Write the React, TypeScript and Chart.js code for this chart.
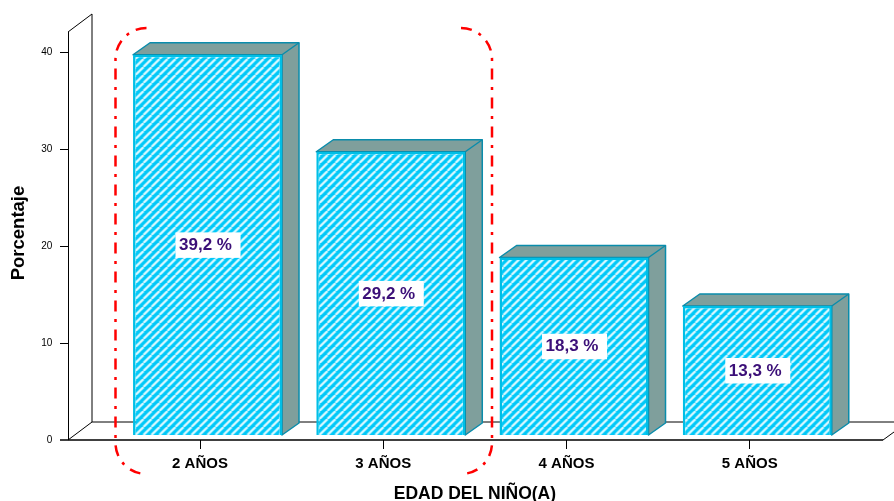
import React, { useEffect, useRef } from "react";
import { Chart, registerables } from "chart.js";

Chart.register(...registerables);

const categories = ["2 AÑOS", "3 AÑOS", "4 AÑOS", "5 AÑOS"];
const percentages = [39.2, 29.2, 18.3, 13.3];
const xTitle = "EDAD DEL NIÑO(A)";
const yTitle = "Porcentaje";

const FONT = '"Liberation Sans", Arial, sans-serif';
const DEPTH_X = 17;
const DEPTH_Y = 12;
const SHIFT_X = 7.5;
const SHIFT_Y = -5;

function makeStripes(): CanvasPattern | string {
  const size = 8;
  const tile = document.createElement("canvas");
  tile.width = size;
  tile.height = size;
  const c = tile.getContext("2d")!;
  c.fillStyle = "#00c8f8";
  c.fillRect(0, 0, size, size);
  c.strokeStyle = "#d8f8ff";
  c.lineWidth = 2.3;
  for (let i = -size; i <= size * 2; i += size) {
    c.beginPath();
    c.moveTo(i, size);
    c.lineTo(i + size, 0);
    c.stroke();
  }
  return c.createPattern(tile, "repeat") || "#00c8f8";
}

const frame3d = {
  id: "frame3d",
  beforeDatasetsDraw(chart: any) {
    const { ctx, scales } = chart;
    const y = scales.y;
    const zero = y.getPixelForValue(0);
    const top40 = y.getPixelForValue(40);
    const frontX = 68;
    const backX = frontX + 24;
    const wallTop = top40 - 20;
    const floorBack = zero - 18;
    const frontEnd = 883;
    ctx.save();
    ctx.strokeStyle = "#000";
    ctx.lineWidth = 1;
    const seg = (a: number, b: number, c: number, d: number) => {
      ctx.beginPath();
      ctx.moveTo(a, b);
      ctx.lineTo(c, d);
      ctx.stroke();
    };
    seg(frontX, wallTop, backX, wallTop - 18);
    seg(backX, wallTop - 18, backX, floorBack);
    seg(frontX, zero, backX, floorBack);
    seg(backX, floorBack, 894, floorBack);
    seg(frontEnd, zero, 894, zero - 8);
    seg(frontX + 0.5, wallTop, frontX + 0.5, zero);
    y.ticks.forEach((t: any) => {
      const p = Math.round(y.getPixelForValue(t.value)) + 0.5;
      if (t.value !== 0) seg(60, p, frontX, p);
    });
    ctx.lineWidth = 1.5;
    seg(60, zero, frontEnd, zero);
    ctx.restore();

    // side faces of the bars, then shift the front faces onto the bar plane
    const meta = chart.getDatasetMeta(0);
    ctx.save();
    ctx.translate(SHIFT_X, SHIFT_Y);
    ctx.fillStyle = "#7f9f9c";
    ctx.strokeStyle = "#0a8cab";
    ctx.lineWidth = 1.5;
    ctx.lineJoin = "round";
    meta.data.forEach((bar: any) => {
      const { x, y: top, base, width } = bar.getProps(["x", "y", "base", "width"], true);
      const l = x - width / 2;
      const r = x + width / 2;
      ctx.beginPath();
      ctx.moveTo(l, top);
      ctx.lineTo(l + DEPTH_X, top - DEPTH_Y);
      ctx.lineTo(r + DEPTH_X, top - DEPTH_Y);
      ctx.lineTo(r + DEPTH_X, base - DEPTH_Y);
      ctx.lineTo(r, base);
      ctx.lineTo(r, top);
      ctx.closePath();
      ctx.fill();
      ctx.stroke();
      ctx.beginPath();
      ctx.moveTo(r, top);
      ctx.lineTo(r + DEPTH_X, top - DEPTH_Y);
      ctx.stroke();
    });
    ctx.restore();
    ctx.save();
    ctx.translate(SHIFT_X, SHIFT_Y);
  },
  afterDatasetsDraw(chart: any) {
    const { ctx } = chart;
    ctx.restore();
    const meta = chart.getDatasetMeta(0);
    ctx.save();
    ctx.font = `bold 17px ${FONT}`;
    ctx.textAlign = "center";
    ctx.textBaseline = "middle";
    meta.data.forEach((bar: any, i: number) => {
      const { x, y: top, base } = bar.getProps(["x", "y", "base"], true);
      const cx = x + SHIFT_X;
      const cy = (top + base) / 2 + SHIFT_Y;
      ctx.fillStyle = "#fff";
      ctx.fillRect(cx - 32, cy - 12.5, 65, 25.5);
      ctx.fillStyle = "#3b0f78";
      ctx.fillText(`${percentages[i].toFixed(1).replace(".", ",")} %`, cx - 2, cy + 0.5);
    });
    ctx.restore();
  },
  afterDraw(chart: any) {
    const { ctx } = chart;
    const l = 115.5, r = 492, t = 28, b = 474, rad = 31;
    ctx.save();
    ctx.strokeStyle = "#ff0000";
    ctx.lineWidth = 2.5;
    ctx.setLineDash([11, 7.5, 3, 7.5]);
    ctx.beginPath();
    ctx.moveTo(l + rad, t);
    ctx.arcTo(l, t, l, t + rad, rad);
    ctx.lineTo(l, b - rad);
    ctx.arcTo(l, b, l + rad, b, rad);
    ctx.stroke();
    ctx.beginPath();
    ctx.moveTo(r - rad, t);
    ctx.arcTo(r, t, r, t + rad, rad);
    ctx.lineTo(r, b - rad);
    ctx.arcTo(r, b, r - rad, b, rad);
    ctx.stroke();
    ctx.restore();
  },
};

export default function App() {
  const ref = useRef<HTMLCanvasElement>(null);
  useEffect(() => {
    const chart = new Chart(ref.current!, {
      type: "bar",
      data: {
        labels: categories,
        datasets: [
          {
            data: percentages,
            backgroundColor: makeStripes() as any,
            borderColor: "#00bfe6",
            borderWidth: 2.5,
            categoryPercentage: 1,
            barPercentage: 0.813,
            clip: false as any,
          },
        ],
      },
      options: {
        responsive: false,
        animation: false,
        layout: { padding: { top: 26, right: 52.6, left: 0, bottom: 0 } },
        plugins: { legend: { display: false }, tooltip: { enabled: false } },
        scales: {
          x: {
            afterFit(s: any) {
              s.height = 61;
            },
            grid: {
              offset: false,
              drawOnChartArea: false,
              drawTicks: true,
              tickLength: 9,
              color: "#000",
            },
            border: { display: false },
            ticks: {
              color: "#000",
              padding: 6,
              maxRotation: 0,
              font: { family: FONT, size: 15, weight: "bold" },
            },
            title: {
              display: true,
              text: xTitle,
              color: "#000",
              padding: { top: 8, bottom: -4 },
              font: { family: FONT, size: 17.5, weight: "bold" },
            },
          },
          y: {
            min: 0,
            max: 42.68,
            afterBuildTicks(s: any) {
              s.ticks = s.ticks.filter((t: any) => t.value % 10 === 0);
            },
            afterFit(s: any) {
              s.width = 108.4;
              s.paddingTop = 0;
              s.paddingBottom = 0;
            },
            grid: { display: false, drawTicks: false },
            border: { display: false },
            ticks: {
              stepSize: 10,
              color: "#000",
              padding: 56,
              font: { family: FONT, size: 10 },
            },
            title: {
              display: true,
              text: yTitle,
              color: "#000",
              padding: { top: 8, bottom: 0 },
              font: { family: FONT, size: 18.5, weight: "bold" },
            },
          },
        },
      },
      plugins: [frame3d],
    } as any);
    return () => chart.destroy();
  }, []);
  return (
    <div style={{ position: "absolute", left: 0, top: 0, width: 894, height: 501, background: "#fff" }}>
      <canvas ref={ref} width={894} height={501} style={{ display: "block" }} />
    </div>
  );
}
